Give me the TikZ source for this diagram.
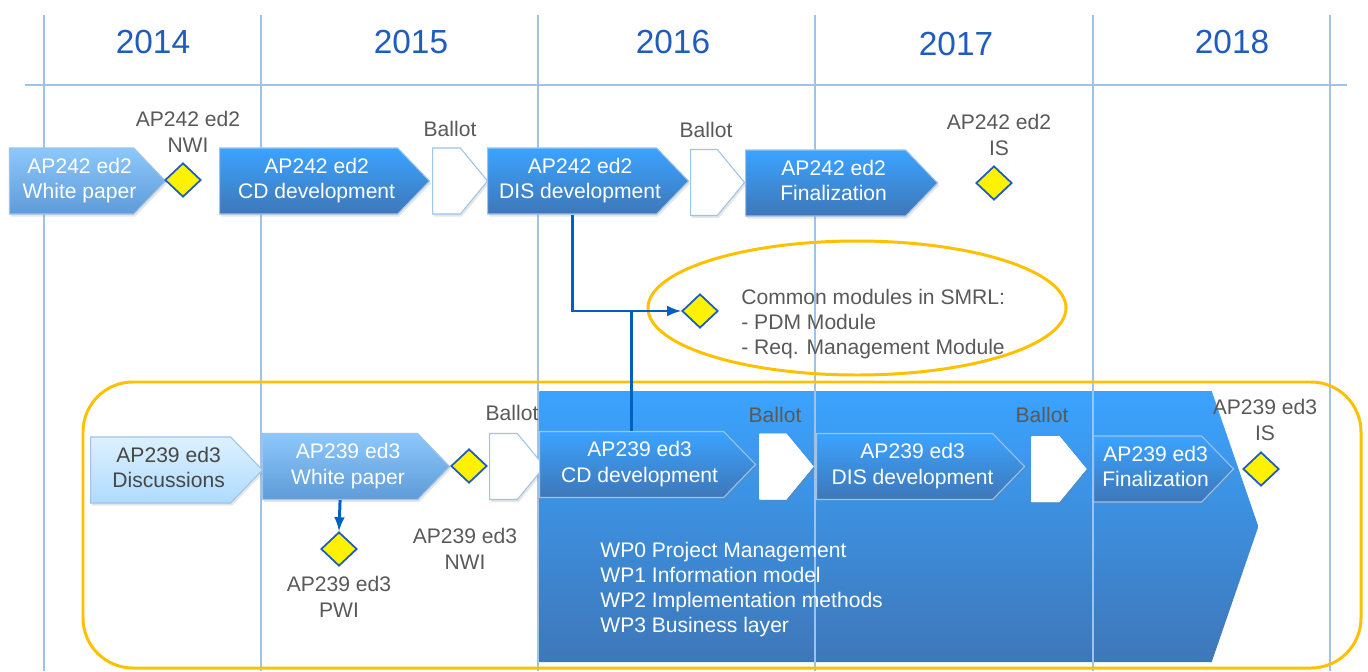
\documentclass[tikz,border=0pt]{standalone}
\usepackage{fontspec}
\setmainfont{Liberation Sans}
\usepackage{xcolor}
\usetikzlibrary{shapes.symbols, shapes.geometric, shadows}

\definecolor{gridblue}{RGB}{157,195,235}
\definecolor{yearblue}{RGB}{30,92,190}
\definecolor{deepblue}{RGB}{59,163,255}
\definecolor{deepblueb}{RGB}{62,119,184}
\definecolor{paleblue}{RGB}{141,200,251}
\definecolor{paleblueb}{RGB}{94,155,216}
\definecolor{iceblue}{RGB}{221,241,255}
\definecolor{iceblueb}{RGB}{174,219,255}
\definecolor{linkblue}{RGB}{0,96,192}
\definecolor{ringorange}{RGB}{255,192,0}
\definecolor{txtgray}{RGB}{89,89,89}

% text in a chevron sits a little right of the body centre
\newcommand{\chevlbl}[1]{\kern0.16cm\begin{tabular}{@{}c@{}}#1\end{tabular}\kern-0.16cm}

\begin{document}
\begin{tikzpicture}[every node/.style={font=\fontsize{12}{14.4}\selectfont,
        align=center, inner sep=0pt},
    chev/.style={signal, signal to=east, signal from=nowhere,
        signal pointer angle=92, anchor=west, minimum height=1.32cm,
        draw=gridblue, line width=0.6pt, text=white,
        top color=deepblue, bottom color=deepblueb,
        drop shadow={opacity=0.2, shadow xshift=0.03cm, shadow yshift=-0.05cm}},
    palechev/.style={chev, top color=paleblue, bottom color=paleblueb},
    icechev/.style={chev, top color=iceblue, bottom color=iceblueb,
        text=txtgray!80!black},
    ballot/.style={chev, signal pointer angle=101, fill=white,
        top color=white, bottom color=white},
    milestone/.style={diamond, draw=yearblue, fill=yellow, line width=1pt,
        minimum width=0.72cm, minimum height=0.68cm},
    lbl/.style={text=txtgray},
    year/.style={text=yearblue, font=\fontsize{19}{22}\selectfont},
    grid/.style={draw=gridblue, line width=0.8pt},
    ring/.style={draw=ringorange, line width=1.7pt},
    link/.style={draw=linkblue, line width=1.7pt}]

    \useasboundingbox (0,0) rectangle (27.36,-13.42);

    % big work package arrow behind everything
    \node[signal, signal to=east, signal from=nowhere, signal pointer angle=142,
        anchor=west, minimum width=14.38cm, minimum height=5.42cm,
        top color=deepblue, bottom color=deepblueb] (wpbox) at (10.78,-10.53) {};

    % years
    \foreach \x in {0.88,5.22,10.76,16.30,21.86,26.60}
        \draw[grid] (\x,-0.30) -- (\x,-13.42);
    \draw[grid] (0.50,-1.70) -- (26.94,-1.70);
    \node[year] (y14) at (3.06,-0.84) {2014};
    \node[year] (y15) at (8.22,-0.84) {2015};
    \node[year] (y16) at (13.46,-0.84) {2016};
    \node[year] (y17) at (19.12,-0.88) {2017};
    \node[year] (y18) at (24.64,-0.84) {2018};

    \node[ring, rounded corners=1cm, minimum width=25.56cm,
        minimum height=5.72cm] (frame) at (14.44,-10.50) {};
    \node[ring, ellipse, minimum width=8.36cm, minimum height=2.68cm]
        (smrlring) at (17.14,-6.16) {};

    % AP242 ed2
    \node[palechev, minimum width=3.12cm] (wp242) at (0.18,-3.62) {\chevlbl{AP242 ed2\\White paper}};
    \node[milestone] (nwi242) at (3.66,-3.60) {};
    \node[lbl] (nwi242l) at (3.76,-2.64) {AP242 ed2\\NWI};
    \node[chev, minimum width=4.20cm] (cd242) at (4.38,-3.62) {\chevlbl{AP242 ed2\\CD development}};
    \node[ballot, minimum width=1.10cm] (bal1) at (8.64,-3.62) {};
    \node[lbl] (bal1l) at (9.00,-2.58) {Ballot};
    \node[chev, minimum width=4.02cm] (dis242) at (9.74,-3.62) {\chevlbl{AP242 ed2\\DIS development}};
    \node[ballot, minimum width=1.08cm] (bal2) at (13.80,-3.65) {};
    \node[lbl] (bal2l) at (14.12,-2.60) {Ballot};
    \node[chev, minimum width=3.84cm] (fin242) at (14.90,-3.66) {\chevlbl{AP242 ed2\\Finalization}};
    \node[milestone] (is242) at (19.88,-3.66) {};
    \node[lbl] (is242l) at (19.98,-2.70) {AP242 ed2\\IS};

    % SMRL
    \node[milestone] (smrl) at (14.00,-6.22) {};
    \node[lbl, anchor=west, align=left] (smrltxt) at (14.82,-6.48)
        {Common modules in SMRL:\\- PDM Module\\- Req. Management Module};

    % AP239 ed3
    \node[icechev, minimum width=3.44cm] (disc239) at (1.80,-9.40) {\chevlbl{AP239 ed3\\Discussions}};
    \node[palechev, minimum width=3.74cm] (wp239) at (5.24,-9.33) {\chevlbl{AP239 ed3\\White paper}};
    \node[milestone] (pwi239) at (6.78,-10.98) {};
    \node[lbl] (pwi239l) at (6.78,-11.94) {AP239 ed3\\PWI};
    \node[milestone] (nwi239) at (9.38,-9.32) {};
    \node[lbl] (nwi239l) at (9.30,-10.98) {AP239 ed3\\NWI};
    \node[ballot, minimum width=1.10cm] (bal3) at (9.78,-9.33) {};
    \node[lbl] (bal3l) at (10.24,-8.26) {Ballot};
    \node[chev, minimum width=4.32cm] (cd239) at (10.78,-9.29) {\chevlbl{AP239 ed3\\CD development}};
    \node[ballot, draw=none, minimum width=1.08cm] (bal4) at (15.18,-9.33) {};
    \node[lbl] (bal4l) at (15.50,-8.30) {Ballot};
    \node[chev, minimum width=4.16cm] (dis239) at (16.32,-9.33) {\chevlbl{AP239 ed3\\DIS development}};
    \node[ballot, draw=none, minimum width=1.10cm] (bal5) at (20.62,-9.38) {};
    \node[lbl] (bal5l) at (20.84,-8.30) {Ballot};
    \node[chev, minimum width=2.80cm] (fin239) at (21.86,-9.38) {\chevlbl{AP239 ed3\\Finalization}};
    \node[milestone] (is239) at (25.22,-9.38) {};
    \node[lbl] (is239l) at (25.30,-8.40) {AP239 ed3\\IS};

    \node[anchor=west, align=left, text=white] (wptxt) at (12.00,-11.79)
        {WP0 Project Management\\WP1 Information model\\WP2 Implementation methods\\WP3 Business layer};

    \draw[link, -latex] (dis242.south) |- (smrl.west);
    \draw[link] (cd239.north) -- (cd239.north |- smrl);
    \draw[link, -latex] (wp239.south) -- (pwi239.north);
\end{tikzpicture}
\end{document}
